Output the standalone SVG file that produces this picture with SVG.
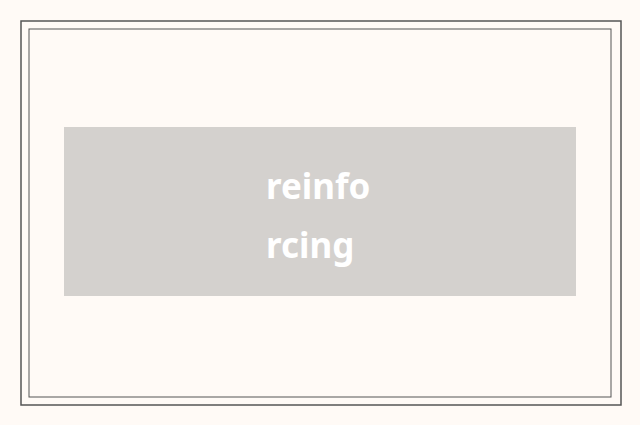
<svg xmlns="http://www.w3.org/2000/svg" width="640" height="425" viewBox="0 0 640 425">
<style>
.t{font-family:"Noto Sans","Open Sans",sans-serif;font-weight:bold;font-size:35px;fill:#ffffff}
</style>
<rect x="0" y="0" width="640" height="425" fill="#fffaf6"/>
<rect x="21" y="21" width="600" height="384" fill="none" stroke="#555" stroke-width="1.5"/>
<rect x="29" y="29" width="582" height="368" fill="none" stroke="#555" stroke-width="1"/>
<g id="node1">
<rect x="64" y="127" width="512" height="169" fill="#d4d1ce"/>
<text class="t" x="266" y="199">reinfo</text>
<text class="t" x="266" y="258">rcing</text>
</g>
<g id="connectors"/>
</svg>
